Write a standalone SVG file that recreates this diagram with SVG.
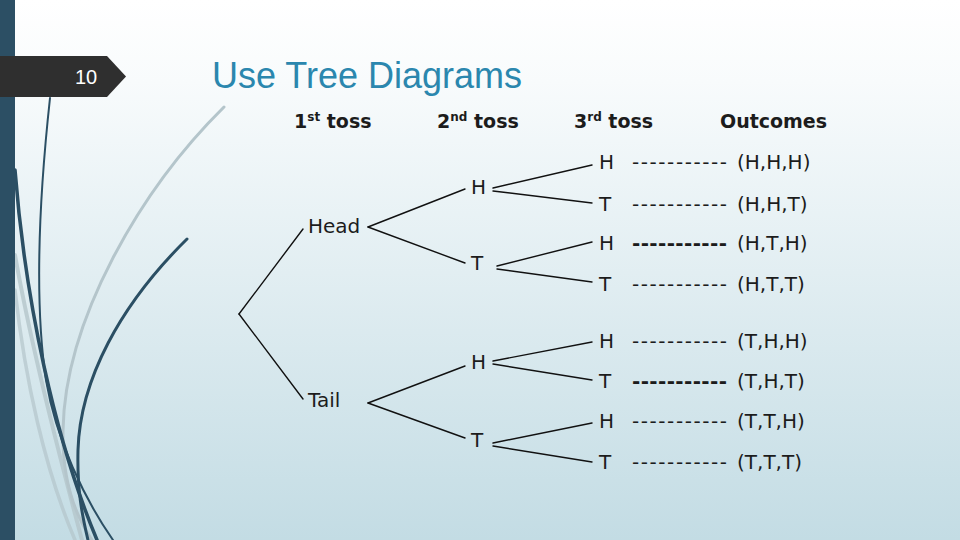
<svg xmlns="http://www.w3.org/2000/svg" width="960" height="540" viewBox="0 0 960 540">
<defs>
<linearGradient id="bg" x1="0" y1="0" x2="0" y2="1">
<stop offset="0" stop-color="#ffffff"/>
<stop offset="0.15" stop-color="#f8fbfc"/>
<stop offset="1" stop-color="#c3dce4"/>
</linearGradient>
<style>
.lbl{font-family:"DejaVu Sans","Noto Sans",sans-serif;font-size:20px;fill:#1c1c1c}
.hdr{font-family:"DejaVu Sans","Noto Sans",sans-serif;font-size:19px;font-weight:bold;fill:#1c1c1c}
.sup{font-size:12px}
.dash{font-family:"DejaVu Sans","Noto Sans",sans-serif;font-size:20px;fill:#1c1c1c}
.dashb{font-weight:bold}
.edge{stroke:#111;stroke-width:1.4;fill:none;stroke-linecap:round}
.dk{fill:none;stroke:#2b4f64;stroke-linecap:round}
.lt{fill:none;stroke:#b4c5cb;stroke-linecap:round}
</style>
</defs>
<rect x="0" y="0" width="960" height="540" fill="url(#bg)"/>
<!-- decorative curves -->
<g id="decor">
<path class="lt" stroke-width="4" d="M15,255 C30,340 55,440 82,540" opacity="0.8"/>
<path class="lt" stroke-width="3.5" d="M15,290 C25,380 45,470 75,540" opacity="0.7"/>
<path class="lt" stroke="#c9d0d3" stroke-width="3" d="M224,107 C140,190 65,320 63,430 C62,480 75,515 92,540"/>
<path class="dk" stroke-width="2" d="M50,98 C40,190 34,300 46,380 C56,440 85,500 113,540"/>
<path class="dk" stroke-width="3.5" d="M15,170 C25,300 55,440 97,540"/>
<path class="dk" stroke-width="3" d="M187,239 C120,305 80,380 78,450 C77,490 82,515 88,540"/>
</g>
<rect x="0" y="0" width="15" height="540" fill="#2c4f64"/>
<g id="slide-number">
<path d="M0,56 L107,56 L126,76.5 L107,97 L0,97 Z" fill="#2f2f2f"/>
<text x="75" y="84" font-family="Liberation Sans, Arial, sans-serif" font-size="20" fill="#ffffff">10</text>
</g>
<g id="title">
<text x="212" y="88" font-family="Liberation Sans, Arial, sans-serif" font-size="36" fill="#2b87ae">Use Tree Diagrams</text>
</g>
<g id="headers">
<text class="hdr" x="294" y="128">1<tspan class="sup" dy="-7">st</tspan><tspan dy="7"> toss</tspan></text>
<text class="hdr" x="437" y="128">2<tspan class="sup" dy="-7">nd</tspan><tspan dy="7"> toss</tspan></text>
<text class="hdr" x="574" y="128">3<tspan class="sup" dy="-7">rd</tspan><tspan dy="7"> toss</tspan></text>
<text class="hdr" x="720" y="128">Outcomes</text>
</g>
<g id="connectors">
<line class="edge" x1="239" y1="314" x2="303" y2="229"/>
<line class="edge" x1="239" y1="314" x2="303" y2="399"/>
<line class="edge" x1="368" y1="227" x2="465" y2="189"/>
<line class="edge" x1="368" y1="227" x2="465" y2="263"/>
<line class="edge" x1="493" y1="188" x2="592" y2="165"/>
<line class="edge" x1="493" y1="191" x2="592" y2="203"/>
<line class="edge" x1="497" y1="266" x2="592" y2="242"/>
<line class="edge" x1="497" y1="269" x2="592" y2="282"/>
<line class="edge" x1="368" y1="403" x2="465" y2="366"/>
<line class="edge" x1="368" y1="403" x2="465" y2="438"/>
<line class="edge" x1="493" y1="361" x2="592" y2="342"/>
<line class="edge" x1="493" y1="364" x2="592" y2="380"/>
<line class="edge" x1="493" y1="443" x2="592" y2="423"/>
<line class="edge" x1="493" y1="446" x2="592" y2="462"/>
</g>
<g id="node-head"><text class="lbl" x="308" y="233">Head</text></g>
<g id="node-tail"><text class="lbl" x="308" y="407">Tail</text></g>
<g id="node-h2a"><text class="lbl" x="471" y="194">H</text></g>
<g id="node-t2a"><text class="lbl" x="471" y="270">T</text></g>
<g id="node-h2b"><text class="lbl" x="471" y="369">H</text></g>
<g id="node-t2b"><text class="lbl" x="471" y="447">T</text></g>
<g id="row-hhh"><text class="lbl" x="599" y="169">H</text><text class="dash" x="632" y="169" textLength="95" lengthAdjust="spacing">-----------</text><text class="lbl" x="737" y="169">(H,H,H)</text></g>
<g id="row-hht"><text class="lbl" x="599" y="211">T</text><text class="dash" x="632" y="211" textLength="95" lengthAdjust="spacing">-----------</text><text class="lbl" x="737" y="211">(H,H,T)</text></g>
<g id="row-hth"><text class="lbl" x="599" y="250">H</text><text class="dash dashb" x="632" y="250" textLength="95" lengthAdjust="spacing">-----------</text><text class="lbl" x="737" y="250">(H,T,H)</text></g>
<g id="row-htt"><text class="lbl" x="599" y="291">T</text><text class="dash" x="632" y="291" textLength="95" lengthAdjust="spacing">-----------</text><text class="lbl" x="737" y="291">(H,T,T)</text></g>
<g id="row-thh"><text class="lbl" x="599" y="348">H</text><text class="dash" x="632" y="348" textLength="95" lengthAdjust="spacing">-----------</text><text class="lbl" x="737" y="348">(T,H,H)</text></g>
<g id="row-tht"><text class="lbl" x="599" y="388">T</text><text class="dash dashb" x="632" y="388" textLength="95" lengthAdjust="spacing">-----------</text><text class="lbl" x="737" y="388">(T,H,T)</text></g>
<g id="row-tth"><text class="lbl" x="599" y="428">H</text><text class="dash" x="632" y="428" textLength="95" lengthAdjust="spacing">-----------</text><text class="lbl" x="737" y="428">(T,T,H)</text></g>
<g id="row-ttt"><text class="lbl" x="599" y="469">T</text><text class="dash" x="632" y="469" textLength="95" lengthAdjust="spacing">-----------</text><text class="lbl" x="737" y="469">(T,T,T)</text></g>
</svg>
